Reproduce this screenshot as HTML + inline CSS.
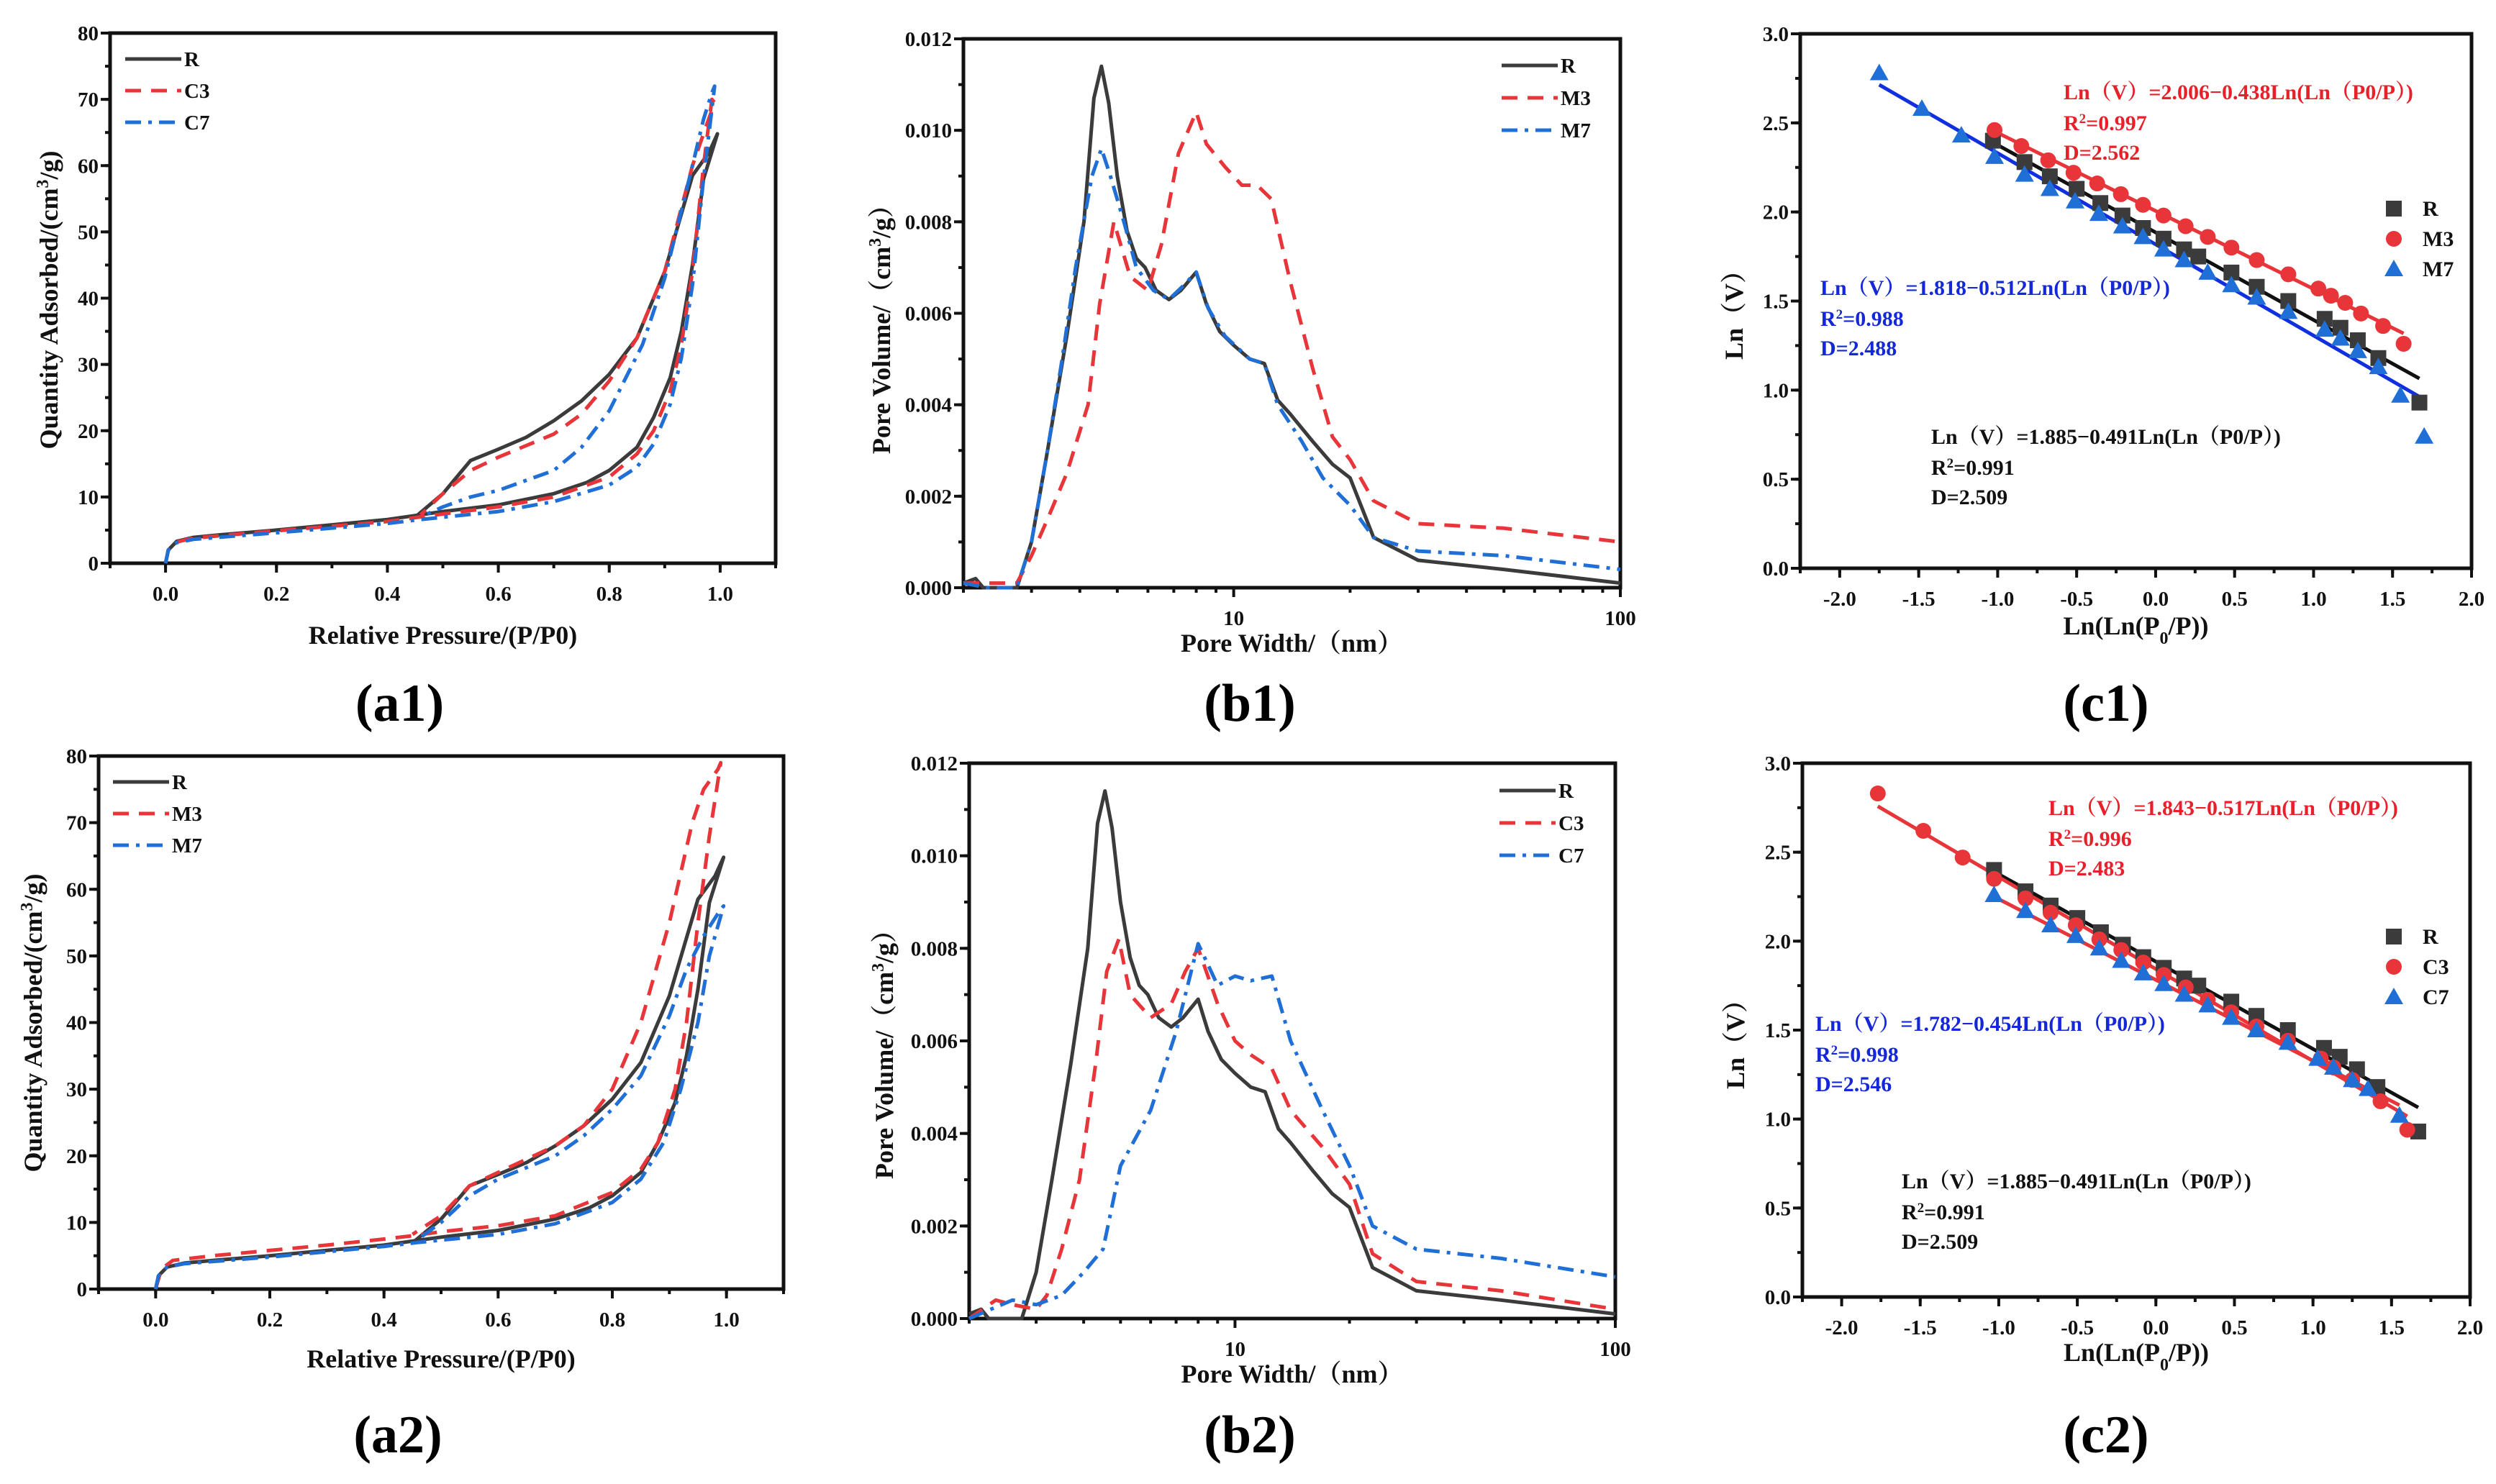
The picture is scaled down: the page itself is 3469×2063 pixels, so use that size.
<!DOCTYPE html>
<html><head><meta charset="utf-8">
<style>
html,body{margin:0;padding:0;background:#fff;}
svg{display:block;font-family:"Liberation Serif","Noto Serif CJK SC",serif;}
</style></head>
<body>
<svg id="fig" width="3469" height="2063" viewBox="0 0 3469 2063" xmlns="http://www.w3.org/2000/svg"></svg>
<script>
// ---------- DATA ----------
const a1R_x=[0,0.005,0.02,0.05,0.1,0.2,0.3,0.4,0.45,0.5,0.6,0.7,0.76,0.8,0.85,0.88,0.91,0.93,0.95,0.97,0.995,0.98,0.95,0.9,0.85,0.8,0.75,0.7,0.65,0.6,0.55,0.5,0.455];
const a1R_y=[0,2,3.3,3.9,4.3,5,5.8,6.6,7.2,7.8,8.8,10.5,12.2,14,17.5,22,28,35,45,58,64.8,62,58.5,44,34,28.5,24.5,21.5,19,17.2,15.5,10.5,7.3];
const a1C3_x=[0,0.005,0.02,0.05,0.2,0.4,0.46,0.6,0.7,0.8,0.85,0.88,0.91,0.93,0.95,0.97,0.985,0.99,0.975,0.95,0.9,0.85,0.8,0.75,0.7,0.6,0.55,0.5,0.46];
const a1C3_y=[0,2,3.2,3.8,4.9,6.3,7,8.5,10,13,16.5,20,26,33,44,60,70,69.5,66,60,44,34,27.5,22.5,19.5,16,14,10.5,7.3];
const a1C7_x=[0,0.005,0.02,0.05,0.2,0.4,0.46,0.6,0.7,0.8,0.85,0.88,0.91,0.93,0.95,0.97,0.99,0.985,0.97,0.95,0.9,0.86,0.8,0.75,0.7,0.6,0.55,0.5,0.46];
const a1C7_y=[0,2,3.1,3.6,4.6,6,6.6,7.8,9.3,11.8,14.5,18,24,31,42,58,72,71,67,60,43,33,23,17.5,14,11,10,8.5,7];
const a2M3_x=[0,0.01,0.03,0.1,0.2,0.3,0.4,0.45,0.5,0.6,0.7,0.8,0.85,0.88,0.91,0.93,0.95,0.97,0.99,0.985,0.96,0.94,0.9,0.85,0.8,0.75,0.7,0.6,0.55,0.5,0.45];
const a2M3_y=[0,3,4.3,5,5.8,6.6,7.5,8,8.6,9.5,11,14.5,18,22,30,40,55,68,79,78,75,70,55,40,30,24.5,21.5,17.5,15.5,11,8.2];
const a2M7_x=[0,0.005,0.02,0.05,0.2,0.4,0.46,0.6,0.7,0.8,0.85,0.89,0.92,0.95,0.97,0.995,0.99,0.96,0.93,0.9,0.85,0.8,0.75,0.7,0.6,0.55,0.5,0.46];
const a2M7_y=[0,2,3.3,3.8,4.8,6.4,7,8.2,9.8,13,16.5,22,30,40,50,57.5,57,53,48,41,32,27,23,20,16.5,14,10,7.5];
const bR_x=[2,2.15,2.25,2.6,2.75,3,3.3,3.7,4.1,4.35,4.55,4.75,5,5.3,5.6,5.9,6.3,6.8,7.3,8,8.5,9.2,10,11,12,13,14,16,18,20,23,30,50,100];
const bR_y=[0.0001,0.0002,0,0,0,0.001,0.003,0.0055,0.008,0.0107,0.0114,0.0106,0.009,0.0078,0.0072,0.007,0.0065,0.0063,0.0065,0.0069,0.0062,0.0056,0.0053,0.005,0.0049,0.0041,0.0038,0.0032,0.0027,0.0024,0.0011,0.0006,0.0004,0.0001];
const b1M3_x=[2,2.4,2.75,3,3.3,3.7,4.2,4.5,4.9,5.4,6,6.5,7.2,8,8.5,9.5,10.5,11.5,12.5,14,16,18,20,23,30,50,100];
const b1M3_y=[0.0001,0.0001,0.0001,0.0007,0.0015,0.0025,0.004,0.0062,0.008,0.0068,0.0065,0.0075,0.0095,0.0104,0.0097,0.0092,0.0088,0.0088,0.0085,0.0067,0.0048,0.0033,0.0028,0.0019,0.0014,0.0013,0.001];
const b1M7_x=[2,2.3,2.75,3,3.3,3.6,3.9,4.3,4.55,4.8,5.2,5.6,6.2,6.8,7.4,8,8.6,9.5,11,12,13,15,17,20,23,30,50,100];
const b1M7_y=[0.0001,0,0,0.001,0.003,0.005,0.007,0.009,0.0096,0.009,0.008,0.007,0.0065,0.0063,0.0066,0.0069,0.0061,0.0055,0.005,0.0049,0.004,0.0032,0.0024,0.0018,0.0011,0.0008,0.0007,0.0004];
const b2C3_x=[2,2.35,2.6,3,3.2,3.5,3.9,4.3,4.6,4.95,5.3,6,6.8,7.4,8,9,10,11,12.5,14,17,20,23,30,50,100];
const b2C3_y=[0,0.0004,0.0003,0.0002,0.0005,0.0015,0.003,0.0055,0.0075,0.0082,0.007,0.0065,0.0068,0.0075,0.008,0.0068,0.006,0.0057,0.0054,0.0045,0.0037,0.0029,0.0014,0.0008,0.0006,0.0002];
const b2C7_x=[2,2.6,3,3.5,4,4.5,5,6,7,8,9,10,11,12.5,14,17,20,23,30,50,100];
const b2C7_y=[0,0.0004,0.0003,0.0005,0.001,0.0015,0.0033,0.0045,0.0062,0.0081,0.0072,0.0074,0.0073,0.0074,0.006,0.0045,0.0033,0.002,0.0015,0.0013,0.0009];
const cR_x=[-1.03,-0.83,-0.67,-0.5,-0.35,-0.21,-0.08,0.05,0.18,0.27,0.48,0.64,0.84,1.07,1.17,1.28,1.41,1.67];
const cR_y=[2.4,2.28,2.2,2.13,2.05,1.98,1.91,1.85,1.79,1.75,1.66,1.58,1.5,1.4,1.35,1.28,1.18,0.93];
const c1M3_x=[-1.02,-0.85,-0.68,-0.52,-0.37,-0.22,-0.08,0.05,0.19,0.33,0.48,0.64,0.84,1.03,1.11,1.2,1.3,1.44,1.57];
const c1M3_y=[2.46,2.37,2.29,2.22,2.16,2.1,2.04,1.98,1.92,1.86,1.8,1.73,1.65,1.57,1.53,1.49,1.43,1.36,1.26];
const c1M7_x=[-1.75,-1.48,-1.23,-1.02,-0.83,-0.67,-0.51,-0.36,-0.21,-0.08,0.05,0.18,0.33,0.48,0.64,0.84,1.07,1.17,1.28,1.41,1.55,1.7];
const c1M7_y=[2.78,2.58,2.43,2.31,2.21,2.13,2.06,1.99,1.92,1.86,1.79,1.73,1.66,1.59,1.52,1.44,1.34,1.29,1.22,1.13,0.97,0.74];
const c2C3_x=[-1.77,-1.48,-1.23,-1.03,-0.83,-0.67,-0.51,-0.36,-0.22,-0.08,0.05,0.19,0.33,0.48,0.64,0.84,1.05,1.13,1.25,1.43,1.6];
const c2C3_y=[2.83,2.62,2.47,2.35,2.24,2.16,2.09,2.01,1.95,1.88,1.81,1.74,1.67,1.6,1.52,1.44,1.34,1.29,1.22,1.1,0.94];
const c2C7_x=[-1.03,-0.83,-0.67,-0.51,-0.36,-0.22,-0.08,0.05,0.18,0.33,0.48,0.64,0.84,1.03,1.13,1.25,1.35,1.55];
const c2C7_y=[2.26,2.17,2.09,2.03,1.96,1.89,1.82,1.76,1.7,1.64,1.57,1.5,1.43,1.34,1.29,1.22,1.17,1.02];
const fitR=[1.885,-0.491,-1.03,1.67];
const fitM3=[2.006,-0.438,-1.02,1.57];
const fitM7=[1.818,-0.512,-1.75,1.7];
const fitC3=[1.843,-0.517,-1.77,1.6];
const fitC7=[1.782,-0.454,-1.03,1.55];
const aTicksX=[0,0.2,0.4,0.6,0.8,1.0];
const aTicksY=[0,10,20,30,40,50,60,70,80];
const bTicksY=[0,0.002,0.004,0.006,0.008,0.010,0.012];
const bTicksX=[10,100];
const cTicksX=[-2,-1.5,-1,-0.5,0,0.5,1,1.5,2];
const cTicksY=[0,0.5,1,1.5,2,2.5,3];

// ---------- DRAW ----------
const NS='http://www.w3.org/2000/svg';
const svg=document.getElementById('fig');
const BLK='#3b3b3b',RED='#e8353a',BLU='#1f6fd6';
function mk(tag,attrs,parent){const e=document.createElementNS(NS,tag);for(const k in attrs)e.setAttribute(k,attrs[k]);(parent||svg).appendChild(e);return e;}
function txt(s,x,y,size,anchor,fill,parent){const t=mk('text',{x:x,y:y,'font-size':size,'font-weight':'bold','text-anchor':anchor||'middle',fill:fill||'#111'},parent);t.textContent=s;return t;}

function panel(p){
  const g=mk('g',{});
  
  
  const lx=p.log?Math.log10(p.x0):p.x0, hx=p.log?Math.log10(p.x1):p.x1;
  const sx=v=>p.L+((p.log?Math.log10(v):v)-lx)/(hx-lx)*(p.R-p.L);
  const sy=v=>p.B-(v-p.y0)/(p.y1-p.y0)*(p.B-p.T);
  const tg=mk('g',{stroke:'#111','stroke-width':4},g);
  
  
  p.minX.forEach(v=>mk('line',{x1:sx(v),x2:sx(v),y1:p.B,y2:p.B+7},tg));
  p.minY.forEach(v=>mk('line',{x1:p.L,x2:p.L-7,y1:sy(v),y2:sy(v)},tg));
  p.tx.forEach(v=>{mk('line',{x1:sx(v),x2:sx(v),y1:p.B,y2:p.B+13},tg);txt(p.fx(v),sx(v),p.B+52,29,'middle','#111',g);});
  p.ty.forEach(v=>{mk('line',{x1:p.L,x2:p.L-13,y1:sy(v),y2:sy(v)},tg);txt(p.fy(v),p.L-16,sy(v)+10,29,'end','#111',g);});
  const fr=mk('rect',{x:p.L,y:p.T,width:p.R-p.L,height:p.B-p.T,fill:'none',stroke:'#111','stroke-width':5},g);
  
  
  p.lines.forEach(s=>{
    const d=s.x.map((v,i)=>(i?'L':'M')+sx(v).toFixed(1)+','+sy(s.y[i]).toFixed(1)).join('');
    const pa=mk('path',{d:d,fill:'none',stroke:s.c,'stroke-width':5,'stroke-dasharray':s.dash||'none','stroke-linejoin':'round'},g);
    
    
  });
  (p.fits||[]).forEach(f=>{
    const ln=mk('line',{x1:sx(f.v[2]),y1:sy(f.v[0]+f.v[1]*f.v[2]),x2:sx(f.v[3]),y2:sy(f.v[0]+f.v[1]*f.v[3]),stroke:f.c,'stroke-width':5},g);
    
    
  });
  (p.pts||[]).forEach(s=>{
    const sg=mk('g',{fill:s.c},g);
    
    
    s.x.forEach((v,i)=>marker(s.m,sx(v),sy(s.y[i]),sg));
  });
  const xt=txt(p.xtitle,(p.L+p.R)/2,p.xty,36,'middle','#111',g);
  
  
  if(p.xsub){xt.textContent='Ln(Ln(P';const t1=mk('tspan',{'baseline-shift':'sub','font-size':24},xt);t1.textContent='0';const t2=mk('tspan',{},xt);t2.textContent='/P))';}
  const yt=mk('text',{transform:`translate(${p.ytx},${p.yty}) rotate(-90)`,'font-size':36,'font-weight':'bold','text-anchor':'middle',fill:'#111'},g);
  
  
  if(p.ysup){const a=mk('tspan',{},yt);a.textContent=p.ytitle[0];const b=mk('tspan',{'baseline-shift':'super','font-size':24},yt);b.textContent='3';const c=mk('tspan',{},yt);c.textContent=p.ytitle[1];}
  else yt.textContent=p.ytitle;
  p.leg.forEach((e,i)=>{
    const lg=mk('g',{},g);
    
    
    const y=p.legY+i*p.legDY;
    if(e.m){marker(e.m,p.legX,y-10,lg).setAttribute('fill',e.c);txt(e.t,p.legX+40,y,30,'start','#111',lg);}
    else{mk('line',{x1:p.legX,x2:p.legX+78,y1:y-10,y2:y-10,stroke:e.c,'stroke-width':5,'stroke-dasharray':e.dash||'none'},lg);txt(e.t,p.legX+82,y,29,'start','#111',lg);}
  });
  (p.notes||[]).forEach(nt=>{
    const ag=mk('g',{},g);
    
    
    txt(nt.eq,nt.x,nt.y,30,'start',nt.c,ag);
    const r=txt('R',nt.x,nt.y+43,30,'start',nt.c,ag);
    const s=mk('tspan',{'baseline-shift':'super','font-size':19},r);s.textContent='2';
    const s2=mk('tspan',{},r);s2.textContent=nt.r2;
    txt(nt.d,nt.x,nt.y+84,30,'start',nt.c,ag);
  });
  const cap=txt(p.cap,p.capX,p.capY,74,'middle','#000',g);
  
  
}
function marker(m,x,y,parent){
  if(m==='s')return mk('rect',{x:x-11,y:y-11,width:22,height:22},parent);
  if(m==='c')return mk('circle',{cx:x,cy:y,r:11},parent);
  return mk('polygon',{points:`${x},${y-13} ${x+13},${y+10} ${x-13},${y+10}`},parent);
}
function range(a,b,s){const r=[];for(let v=a;v<=b+1e-9;v+=s)r.push(+v.toFixed(6));return r;}
const logMin=[2,3,4,5,6,7,8,9,20,30,40,50,60,70,80,90];
const DASH='22,14',DD='22,10,5,10';

function aPanel(name,L,R,T,B,red,blue,lab,cap,capY,xty,ytx,yty,legX,legY){
  panel({name,L,R,T,B,x0:-0.1,x1:1.1,y0:0,y1:80,tx:aTicksX,ty:aTicksY,fx:v=>v.toFixed(1),fy:v=>String(v),
    minX:range(-0.1,1.1,0.1),minY:range(0,80,5),
    lines:[{x:a1R_x,y:a1R_y,c:BLK,n:name+'-series-r'},{x:red[0],y:red[1],c:RED,dash:DASH,n:name+'-series-'+lab[0].toLowerCase()},{x:blue[0],y:blue[1],c:BLU,dash:DD,n:name+'-series-'+lab[1].toLowerCase()}],
    xtitle:'Relative Pressure/(P/P0)',xty,ytitle:['Quantity Adsorbed/(cm','/g)'],ysup:true,ytx,yty,
    leg:[{t:'R',c:BLK},{t:lab[0],c:RED,dash:DASH},{t:lab[1],c:BLU,dash:DD}],legX,legY,legDY:44,cap,capX:(L+R)/2-60,capY});
}
aPanel('isotherm-a1',153,1078,46,783,[a1C3_x,a1C3_y],[a1C7_x,a1C7_y],['C3','C7'],'(a1)',1002,895,80,417,174,92);
aPanel('isotherm-a2',137,1089,1051,1792,[a2M3_x,a2M3_y],[a2M7_x,a2M7_y],['M3','M7'],'(a2)',2019,1901,58,1422,157,1097);

function bPanel(name,L,R,T,B,red,blue,lab,cap,capY,xty,ytx,yty,legX,legY){
  panel({name,L,R,T,B,log:true,x0:2,x1:100,y0:0,y1:0.012,tx:bTicksX,ty:bTicksY,fx:v=>String(v),fy:v=>v.toFixed(3),
    minX:logMin,minY:range(0,0.012,0.001),
    lines:[{x:bR_x,y:bR_y,c:BLK,n:name+'-series-r'},{x:red[0],y:red[1],c:RED,dash:DASH,n:name+'-series-'+lab[0].toLowerCase()},{x:blue[0],y:blue[1],c:BLU,dash:DD,n:name+'-series-'+lab[1].toLowerCase()}],
    xtitle:'Pore Width/（nm）',xty,ytitle:['Pore Volume/（cm','/g）'],ysup:true,ytx,yty,
    leg:[{t:'R',c:BLK},{t:lab[0],c:RED,dash:DASH},{t:lab[1],c:BLU,dash:DD}],legX,legY,legDY:45,cap,capX:1737,capY});
}
bPanel('pore-distribution-b1',1339,2252,54,817,[b1M3_x,b1M3_y],[b1M7_x,b1M7_y],['M3','M7'],'(b1)',1002,906,1237,449,2087,101);
bPanel('pore-distribution-b2',1347,2245,1061,1833,[b2C3_x,b2C3_y],[b2C7_x,b2C7_y],['C3','C7'],'(b2)',2019,1922,1241,1457,2084,1109);

function cPanel(name,L,R,T,B,red,blue,fr,fb,lab,notes,cap,capY,xty,ytx,yty,legY){
  panel({name,L,R,T,B,x0:-2.25,x1:2.0,y0:0,y1:3,tx:cTicksX,ty:cTicksY,fx:v=>v.toFixed(1),fy:v=>v.toFixed(1),
    minX:range(-2.25,2,0.25),minY:range(0,3,0.25),lines:[],
    fits:[{v:fitR,c:'#111',n:name+'-fit-r'},{v:fr,c:RED,n:name+'-fit-'+lab[0].toLowerCase()},{v:fb,c:fb===fitC7?RED:'#1030e0',n:name+'-fit-'+lab[1].toLowerCase()}],
    pts:[{x:cR_x,y:cR_y,c:BLK,m:'s',n:name+'-points-r'},{x:red[0],y:red[1],c:RED,m:'c',n:name+'-points-'+lab[0].toLowerCase()},{x:blue[0],y:blue[1],c:BLU,m:'t',n:name+'-points-'+lab[1].toLowerCase()}],
    xtitle:'',xsub:true,xty,ytitle:'Ln（V）',ytx,yty,
    leg:[{t:'R',c:BLK,m:'s'},{t:lab[0],c:RED,m:'c'},{t:lab[1],c:BLU,m:'t'}],legX:3327,legY,legDY:42,notes,cap,capX:2927,capY});
}
cPanel('fhh-c1',2502,3435,47,790,[c1M3_x,c1M3_y],[c1M7_x,c1M7_y],fitM3,fitM7,['M3','M7'],[
  {n:'fhh-c1-m3-equation',x:2868,y:138,c:'#e8202a',eq:'Ln（V）=2.006−0.438Ln(Ln（P0/P）)',r2:'=0.997',d:'D=2.562'},
  {n:'fhh-c1-m7-equation',x:2530,y:410,c:'#1428d8',eq:'Ln（V）=1.818−0.512Ln(Ln（P0/P）)',r2:'=0.988',d:'D=2.488'},
  {n:'fhh-c1-r-equation',x:2684,y:617,c:'#111',eq:'Ln（V）=1.885−0.491Ln(Ln（P0/P）)',r2:'=0.991',d:'D=2.509'}],
  '(c1)',1002,882,2422,429,300);
cPanel('fhh-c2',2505,3433,1061,1803,[c2C3_x,c2C3_y],[c2C7_x,c2C7_y],fitC3,fitC7,['C3','C7'],[
  {n:'fhh-c2-c3-equation',x:2847,y:1133,c:'#e8202a',eq:'Ln（V）=1.843−0.517Ln(Ln（P0/P）)',r2:'=0.996',d:'D=2.483'},
  {n:'fhh-c2-c7-equation',x:2523,y:1433,c:'#1428d8',eq:'Ln（V）=1.782−0.454Ln(Ln（P0/P）)',r2:'=0.998',d:'D=2.546'},
  {n:'fhh-c2-r-equation',x:2643,y:1652,c:'#111',eq:'Ln（V）=1.885−0.491Ln(Ln（P0/P）)',r2:'=0.991',d:'D=2.509'}],
  '(c2)',2019,1892,2424,1443,1312);
</script>
</body></html>
